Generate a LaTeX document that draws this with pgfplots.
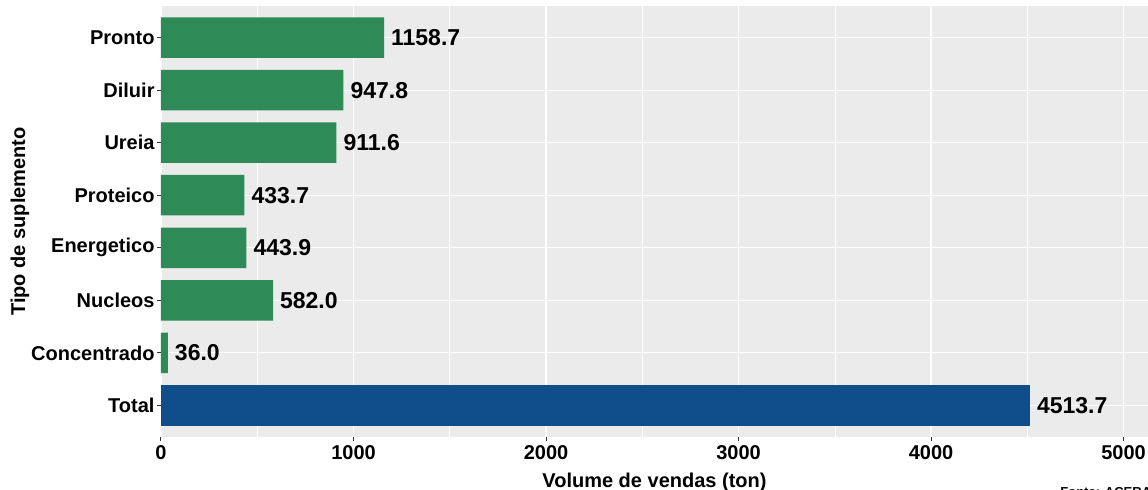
\documentclass[border=0pt]{standalone}
\usepackage{fontspec}
\setmainfont{Liberation Sans}
\usepackage{pgfplots}
\pgfplotsset{compat=1.18}

\definecolor{panelbg}{HTML}{EBEBEB}
\definecolor{barGreen}{HTML}{2E8B57}
\definecolor{barBlue}{HTML}{104E8B}
\definecolor{tickgray}{HTML}{333333}

% 1 px of the reference = 0.5pt
\begin{document}
\begin{tikzpicture}
\begin{axis}[
    scale only axis,
    width=493.5pt,
    height=215.5pt,
    clip mode=individual,
    xbar,
    bar width=0.77,
    bar shift=0pt,
    xmin=0, xmax=5127,
    ymin=-0.6, ymax=7.6,
    ytick={0,...,7},
    yticklabels={Total,Concentrado,Nucleos,Energetico,Proteico,Ureia,Diluir,Pronto},
    xtick={0,1000,...,5000},
    minor x tick num=1,
    xtick pos=bottom, ytick pos=left,
    tick align=outside,
    major tick length=2pt,
    minor tick length=0pt,
    tick style={tickgray, line width=0.5pt},
    axis line style={draw=none},
    axis background/.style={fill=panelbg},
    grid=both,
    major grid style={white, line width=0.55pt},
    minor grid style={white, line width=0.28pt},
    /pgf/number format/assume math mode=true,
    /pgf/number format/.cd, 1000 sep={}, /pgfplots/.cd,
    ticklabel style={font=\fontsize{10}{12}\selectfont\bfseries, text=black},
    yticklabel style={xshift=2.3pt},
    xticklabel style={yshift=1.5pt},
    nodes near coords,
    nodes near coords style={anchor=west, xshift=0pt, font=\fontsize{11.5}{13}\selectfont\bfseries, text=black,
        /pgf/number format/.cd, fixed, fixed zerofill, precision=1, 1000 sep={}, assume math mode=true},
]
\addplot[fill=barGreen, draw=none] coordinates {
    (36.0,1) (582.0,2) (443.9,3) (433.7,4) (911.6,5) (947.8,6) (1158.7,7)
};
\addplot[fill=barBlue, draw=none] coordinates {
    (4513.7,0)
};
\coordinate (bl) at (rel axis cs:0,0);
\coordinate (tr) at (rel axis cs:1,1);
\node[rotate=90, font=\fontsize{10}{12}\selectfont\bfseries] at ([xshift=-70.5pt]rel axis cs:0,0.5) {Tipo de suplemento};
\node[font=\fontsize{10}{12}\selectfont\bfseries] at ([yshift=-22.5pt]rel axis cs:0.5,0) {Volume de vendas (ton)};
\end{axis}
\node[anchor=north west, inner sep=0pt, font=\fontsize{6.5}{8}\selectfont\bfseries] at ([xshift=-44pt,yshift=-25pt]bl -| tr) {Fonte: ACERAV};
\pgfresetboundingbox
\path[use as bounding box] ([xshift=-80.5pt,yshift=-26.5pt]bl) rectangle ([yshift=3pt]tr);
\end{tikzpicture}
\end{document}
